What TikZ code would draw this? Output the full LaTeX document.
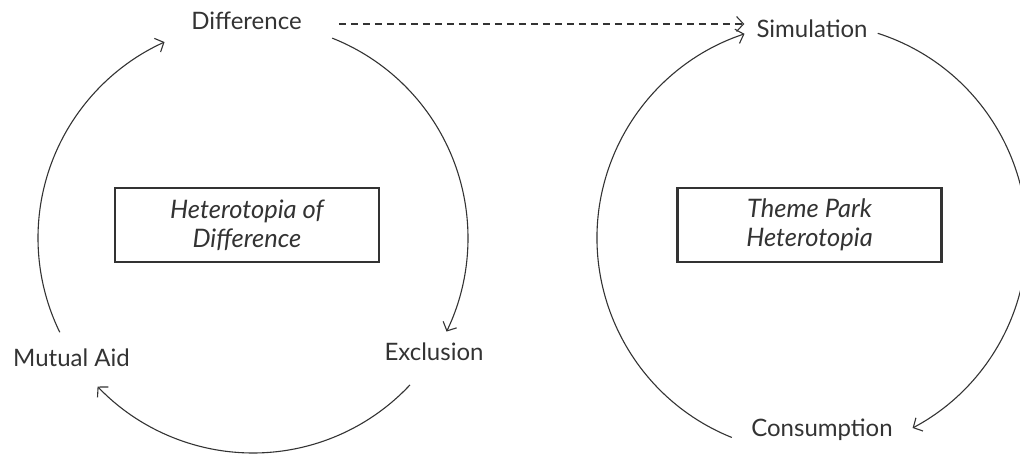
\documentclass[tikz,border=0pt]{standalone}
\usepackage{fontspec}
\setmainfont{Lato}
\usetikzlibrary{arrows.meta,calc}
\definecolor{ink}{HTML}{333333}
\begin{document}
\begin{tikzpicture}[x=1pt,y=1pt,
  lbl/.style={font=\fontsize{24}{28}\selectfont, text=ink, inner sep=0pt, anchor=base},
  boxnode/.style={draw=ink, line width=2.8pt, minimum width=264pt, minimum height=74pt,
    align=center, font=\fontsize{25.5}{29}\selectfont\itshape, text=ink},
  cyc/.style={draw=ink, line width=1.1pt, -{Straight Barb[length=7pt,width=15pt,line width=1.1pt]}},
]
\useasboundingbox (0,0) rectangle (1020,455);
% centres of the two cycles
\coordinate (L) at (253,217);
\coordinate (R) at (812,217);
% labels
\node[lbl] (diff) at (246.5,425) {Difference};
\node[lbl] (excl) at (434,94) {Exclusion};
\node[lbl] (mutual) at (71.5,88) {Mutual Aid};
\node[lbl] (sim) at (812,417) {Simulation};
\node[lbl] (cons) at (822,18) {Consumption};
% boxes
\node[boxnode] (hd) at (247,230) {Heterotopia of\\Difference};
\node[boxnode] (tp) at (809.5,230) {Theme Park\\Heterotopia};
% left cycle
\draw[cyc] ($(L)+(68.4:215)$) arc[start angle=68.4, end angle=-25.8, radius=215];
\draw[cyc] ($(L)+(-43.1:215)$) arc[start angle=-43.1, end angle=-136.3, radius=215];
\draw[cyc] ($(L)+(206:215)$) arc[start angle=206, end angle=114.3, radius=215];
% right cycle
\draw[cyc] ($(R)+(72.2:215)$) arc[start angle=72.2, end angle=-62.1, radius=215];
\draw[cyc] ($(R)+(248.1:215)$) arc[start angle=248.1, end angle=108.3, radius=215];
% dashed link
\coordinate (ds) at ($(diff.east)+(37,0)$);
\coordinate (de) at ($(sim.west)+(-12,0)$);
\draw[cyc, dashed, dash pattern=on 7pt off 5pt] (ds |- 0,431) -- (de |- 0,431);
\end{tikzpicture}
\end{document}
